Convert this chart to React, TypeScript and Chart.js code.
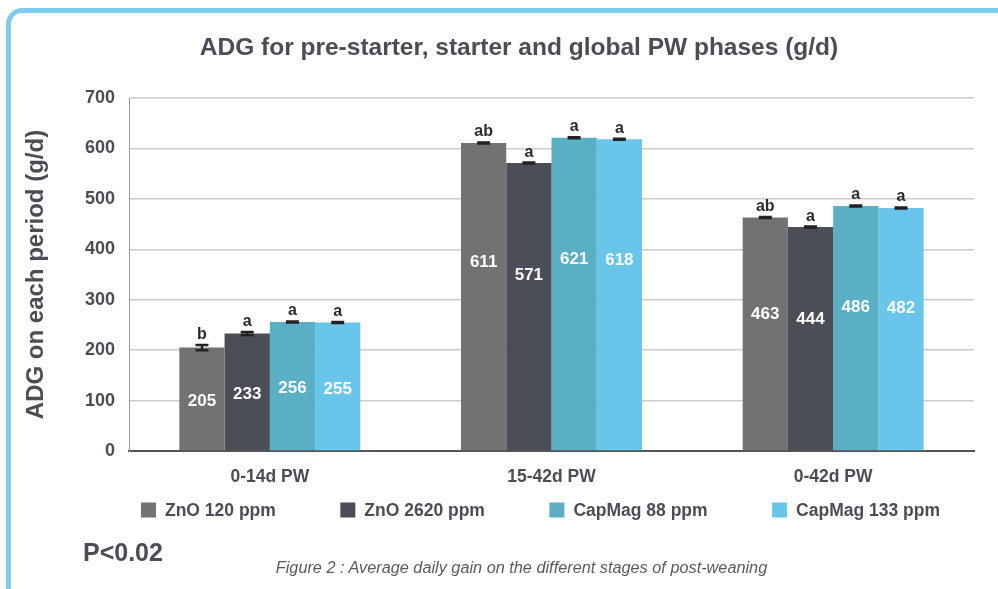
import React, { useEffect, useRef } from 'react';
import { Chart, registerables } from 'chart.js';

Chart.register(...registerables);

// ---- data ----
const categories = ['0-14d PW', '15-42d PW', '0-42d PW'];
const seriesLabels = ['ZnO 120 ppm', 'ZnO 2620 ppm', 'CapMag 88 ppm', 'CapMag 133 ppm'];
const zno120 = [205, 611, 463];
const zno2620 = [233, 571, 444];
const capmag88 = [256, 621, 486];
const capmag133 = [255, 618, 482];
const zno120Err = [5, 1, 1];
const zno2620Err = [3, 1, 1];
const capmag88Err = [1, 1, 1];
const capmag133Err = [1, 1, 1];
const zno120Letters = ['b', 'ab', 'ab'];
const zno2620Letters = ['a', 'a', 'a'];
const capmag88Letters = ['a', 'a', 'a'];
const capmag133Letters = ['a', 'a', 'a'];
const yMin = 0;
const yMax = 700;
const yStep = 100;
const chartTitle = 'ADG for pre-starter, starter and global PW phases (g/d)';
const yTitle = 'ADG on each period (g/d)';
const pValueText = 'P<0.02';
const captionText = 'Figure 2 : Average daily gain on the different stages of post-weaning';

// ---- style ----
const FONT = '"Liberation Sans", Arial, Helvetica, sans-serif';
const TEXT = '#4b4d55';
const colors = ['#717271', '#4b4e57', '#5aafc5', '#6ac5ea'];
const labelFrac = [0.48, 0.61, 0.585];

const seriesValues = [zno120, zno2620, capmag88, capmag133];
const seriesErrors = [zno120Err, zno2620Err, capmag88Err, capmag133Err];
const seriesLetters = [zno120Letters, zno2620Letters, capmag88Letters, capmag133Letters];

const decorPlugin = {
  id: 'decor',
  afterDatasetsDraw(chart: any) {
    const ctx = chart.ctx;
    const ys = chart.scales.y;
    chart.data.datasets.forEach((ds: any, di: number) => {
      const meta = chart.getDatasetMeta(di);
      meta.data.forEach((bar: any, i: number) => {
        const v = ds.data[i] as number;
        const e = seriesErrors[di][i];
        const top = ys.getPixelForValue(v + e);
        const bot = ys.getPixelForValue(v - e);
        ctx.save();
        ctx.strokeStyle = '#222222';
        ctx.lineWidth = 2.5;
        ctx.beginPath();
        ctx.moveTo(bar.x - 6.5, top);
        ctx.lineTo(bar.x + 6.5, top);
        ctx.moveTo(bar.x - 6.5, bot);
        ctx.lineTo(bar.x + 6.5, bot);
        ctx.moveTo(bar.x, top);
        ctx.lineTo(bar.x, bot);
        ctx.stroke();
        ctx.fillStyle = '#2b2b2b';
        ctx.font = `bold 16px ${FONT}`;
        ctx.textAlign = 'center';
        ctx.textBaseline = 'alphabetic';
        ctx.fillText(seriesLetters[di][i], bar.x, top - 6);
        const ly = bar.base - (bar.base - bar.y) * labelFrac[i];
        ctx.fillStyle = '#ffffff';
        ctx.font = `bold 17px ${FONT}`;
        ctx.textBaseline = 'middle';
        ctx.fillText(String(v), bar.x, ly);
        ctx.restore();
      });
    });
  },
  afterDraw(chart: any) {
    const ctx = chart.ctx;
    ctx.save();
    // title
    ctx.fillStyle = TEXT;
    ctx.font = `bold 24.5px ${FONT}`;
    ctx.textAlign = 'center';
    ctx.textBaseline = 'middle';
    ctx.fillText(chartTitle, 519, 48);
    // legend
    ctx.font = `bold 17.5px ${FONT}`;
    const box = 15;
    const boxGap = 9;
    const gap = 64.5;
    const widths = chart.data.datasets.map((d: any) => box + boxGap + ctx.measureText(d.label).width);
    const total = widths.reduce((a: number, b: number) => a + b, 0) + gap * (widths.length - 1);
    let x = 540.5 - total / 2;
    const ly = 510;
    ctx.textAlign = 'left';
    chart.data.datasets.forEach((d: any, i: number) => {
      ctx.fillStyle = d.backgroundColor;
      ctx.fillRect(x, ly - box / 2, box, box);
      ctx.fillStyle = TEXT;
      ctx.fillText(d.label, x + box + boxGap, ly + 1);
      x += widths[i] + gap;
    });
    ctx.restore();
  },
};

export default function App() {
  const canvasRef = useRef<HTMLCanvasElement | null>(null);

  useEffect(() => {
    const canvas = canvasRef.current;
    if (!canvas) return;
    const chart = new Chart(canvas, {
      type: 'bar',
      data: {
        labels: categories,
        datasets: seriesLabels.map((label, i) => ({
          label,
          data: seriesValues[i],
          backgroundColor: colors[i],
          borderWidth: 0,
          categoryPercentage: 0.6426,
          barPercentage: 1.0,
        })),
      },
      options: {
        responsive: false,
        animation: false,
        devicePixelRatio: 1,
        layout: { padding: { left: 14, right: 24, top: 98, bottom: 98 } },
        plugins: {
          legend: { display: false },
          title: { display: false },
          tooltip: { enabled: false },
        },
        scales: {
          x: {
            grid: { display: false, drawTicks: false },
            border: { display: true, color: '#555555', width: 2 },
            ticks: {
              color: TEXT,
              font: { family: FONT, size: 17.5, weight: 'bold' },
              padding: 16,
            },
            afterFit: (s: any) => {
              s.height = 40;
            },
          },
          y: {
            min: yMin,
            max: yMax,
            ticks: {
              stepSize: yStep,
              color: TEXT,
              font: { family: FONT, size: 18, weight: 'bold' },
              padding: 14,
            },
            grid: {
              color: (c: any) => (c.tick && c.tick.value === 0 ? 'rgba(0,0,0,0)' : '#cccccc'),
              lineWidth: 1.5,
              drawTicks: false,
            },
            border: { display: true, color: '#999999', width: 1 },
            title: {
              display: true,
              text: yTitle,
              color: TEXT,
              font: { family: FONT, size: 24, weight: 'bold' },
              padding: { top: 8, bottom: 0 },
            },
            afterFit: (s: any) => {
              s.width = 115;
            },
          },
        },
      },
      plugins: [decorPlugin],
    } as any);
    return () => chart.destroy();
  }, []);

  return (
    <div
      style={{
        position: 'fixed',
        left: 0,
        top: 0,
        width: 998,
        height: 589,
        overflow: 'hidden',
        background: '#ffffff',
      }}
    >
      <div
        style={{
          position: 'absolute',
          left: 6,
          top: 8,
          width: 1200,
          height: 900,
          border: '5px solid #80ccf0',
          borderRadius: 16,
          boxSizing: 'border-box',
        }}
      />
      <canvas
        ref={canvasRef}
        width={998}
        height={589}
        style={{ position: 'absolute', left: 0, top: 0, width: 998, height: 589 }}
      />
      <div
        style={{
          position: 'absolute',
          left: 83,
          top: 540,
          fontFamily: FONT,
          fontWeight: 'bold',
          fontSize: 25,
          lineHeight: '25px',
          color: TEXT,
          whiteSpace: 'nowrap',
        }}
      >
        {pValueText}
      </div>
      <div
        style={{
          position: 'absolute',
          left: 0,
          top: 559,
          width: 1043,
          textAlign: 'center',
          fontFamily: FONT,
          fontStyle: 'italic',
          fontSize: 16.3,
          lineHeight: '16px',
          color: '#5a5a5a',
          whiteSpace: 'nowrap',
        }}
      >
        {captionText}
      </div>
    </div>
  );
}
